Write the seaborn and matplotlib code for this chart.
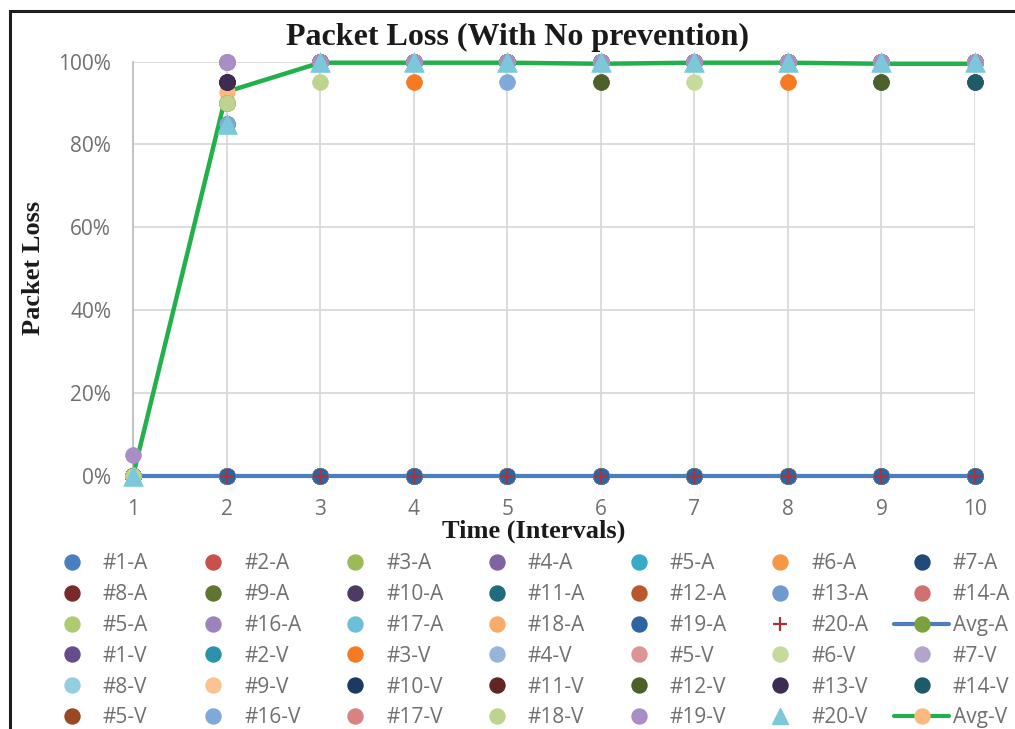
import numpy as np
import pandas as pd
import matplotlib
matplotlib.use("Agg")
import matplotlib.pyplot as plt
from matplotlib.lines import Line2D
from matplotlib.patches import Rectangle
from matplotlib.ticker import PercentFormatter
import seaborn as sns

# ---- data -----------------------------------------------------------------
times = [1, 2, 3, 4, 5, 6, 7, 8, 9, 10]

labels_a = ["#1-A", "#2-A", "#3-A", "#4-A", "#5-A", "#6-A", "#7-A",
            "#8-A", "#9-A", "#10-A", "#11-A", "#12-A", "#13-A", "#14-A",
            "#5-A", "#16-A", "#17-A", "#18-A", "#19-A", "#20-A"]
labels_v = ["#1-V", "#2-V", "#3-V", "#4-V", "#5-V", "#6-V", "#7-V",
            "#8-V", "#9-V", "#10-V", "#11-V", "#12-V", "#13-V", "#14-V",
            "#5-V", "#16-V", "#17-V", "#18-V", "#19-V", "#20-V"]

# packet loss (%) of the A nodes per interval
loss_a01 = [0, 0, 0, 0, 0, 0, 0, 0, 0, 0]
loss_a02 = [0, 0, 0, 0, 0, 0, 0, 0, 0, 0]
loss_a03 = [0, 0, 0, 0, 0, 0, 0, 0, 0, 0]
loss_a04 = [0, 0, 0, 0, 0, 0, 0, 0, 0, 0]
loss_a05 = [0, 0, 0, 0, 0, 0, 0, 0, 0, 0]
loss_a06 = [0, 0, 0, 0, 0, 0, 0, 0, 0, 0]
loss_a07 = [0, 0, 0, 0, 0, 0, 0, 0, 0, 0]
loss_a08 = [0, 0, 0, 0, 0, 0, 0, 0, 0, 0]
loss_a09 = [0, 0, 0, 0, 0, 0, 0, 0, 0, 0]
loss_a10 = [0, 0, 0, 0, 0, 0, 0, 0, 0, 0]
loss_a11 = [0, 0, 0, 0, 0, 0, 0, 0, 0, 0]
loss_a12 = [0, 0, 0, 0, 0, 0, 0, 0, 0, 0]
loss_a13 = [0, 0, 0, 0, 0, 0, 0, 0, 0, 0]
loss_a14 = [0, 0, 0, 0, 0, 0, 0, 0, 0, 0]
loss_a15 = [0, 0, 0, 0, 0, 0, 0, 0, 0, 0]
loss_a16 = [0, 0, 0, 0, 0, 0, 0, 0, 0, 0]
loss_a17 = [0, 0, 0, 0, 0, 0, 0, 0, 0, 0]
loss_a18 = [0, 0, 0, 0, 0, 0, 0, 0, 0, 0]
loss_a19 = [0, 0, 0, 0, 0, 0, 0, 0, 0, 0]
loss_a20 = [0, 0, 0, 0, 0, 0, 0, 0, 0, 0]

# packet loss (%) of the V nodes per interval
loss_v01 = [0, 100, 100, 100, 100, 100, 100, 100, 100, 95]
loss_v02 = [0, 100, 100, 100, 100, 100, 100, 100, 95, 100]
loss_v03 = [0, 95, 100, 95, 100, 100, 100, 95, 100, 100]
loss_v04 = [0, 90, 100, 100, 100, 100, 100, 100, 100, 100]
loss_v05 = [0, 100, 100, 100, 100, 95, 100, 100, 100, 100]
loss_v06 = [0, 90, 100, 100, 100, 100, 95, 100, 100, 100]
loss_v07 = [0, 100, 100, 100, 100, 100, 100, 100, 100, 100]
loss_v08 = [0, 95, 100, 100, 100, 100, 100, 100, 100, 100]
loss_v09 = [0, 90, 100, 100, 100, 100, 100, 100, 100, 100]
loss_v10 = [0, 95, 100, 100, 100, 100, 100, 100, 100, 100]
loss_v11 = [0, 95, 100, 100, 100, 100, 100, 100, 100, 100]
loss_v12 = [0, 90, 100, 100, 100, 95, 100, 100, 95, 100]
loss_v13 = [0, 95, 100, 100, 100, 100, 100, 100, 100, 100]
loss_v14 = [0, 85, 100, 100, 100, 100, 100, 100, 100, 95]
loss_v15 = [0, 85, 100, 100, 100, 100, 100, 100, 100, 100]
loss_v16 = [0, 85, 100, 100, 95, 100, 100, 100, 100, 100]
loss_v17 = [0, 90, 100, 100, 100, 100, 100, 100, 100, 100]
loss_v18 = [0, 90, 95, 100, 100, 100, 100, 100, 100, 100]
loss_v19 = [5, 100, 100, 100, 100, 100, 100, 100, 100, 100]
loss_v20 = [0, 85, 100, 100, 100, 100, 100, 100, 100, 100]

series_a = [loss_a01, loss_a02, loss_a03, loss_a04, loss_a05, loss_a06, loss_a07,
            loss_a08, loss_a09, loss_a10, loss_a11, loss_a12, loss_a13, loss_a14,
            loss_a15, loss_a16, loss_a17, loss_a18, loss_a19, loss_a20]
series_v = [loss_v01, loss_v02, loss_v03, loss_v04, loss_v05, loss_v06, loss_v07,
            loss_v08, loss_v09, loss_v10, loss_v11, loss_v12, loss_v13, loss_v14,
            loss_v15, loss_v16, loss_v17, loss_v18, loss_v19, loss_v20]

avg_a = np.mean(np.array(series_a, dtype=float), axis=0)
avg_v = np.mean(np.array(series_v, dtype=float), axis=0)

# ---- styles ---------------------------------------------------------------
colors_a = ["#4a7ec1", "#c8504d", "#9bbb59", "#8064a2", "#36aac6", "#f79646", "#1f4a7a",
            "#772c2a", "#5f7530", "#4d3b62", "#1f6a7c", "#b9582a", "#6f9acd", "#d07170",
            "#afcb72", "#9c84bb", "#6cbfd6", "#f9ab6b", "#2e64a0", "#a8333a"]
colors_v = ["#664c8c", "#2a92aa", "#f57a22", "#95b5dc", "#dc9494", "#c6da9c", "#b4a3cb",
            "#93cfe0", "#fac391", "#1a3a62", "#632523", "#4b6129", "#3c2b52", "#1f5a68",
            "#984823", "#80a8d8", "#da8282", "#bcd48e", "#a88dc6", "#7ac8da"]
avg_a_line, avg_a_marker = "#4a7ec1", "#7ba03c"
avg_v_line, avg_v_marker = "#22b04b", "#fbb97d"

sns.set_theme(style="white")
plt.rcParams["font.family"] = ["Open Sans", "DejaVu Sans"]
serif = ["Liberation Serif", "DejaVu Serif"]
tick_color = "#707070"
fs = 15

fig = plt.figure(figsize=(10.15, 7.29), dpi=100)
ax = fig.add_axes([0.1313, 0.3475, 0.8293, 0.5679])

# average lines underneath the individual nodes
sns.lineplot(x=times, y=avg_a, ax=ax, color=avg_a_line, linewidth=3.0,
             marker="o", markersize=11, markerfacecolor=avg_a_marker,
             markeredgecolor=avg_a_marker, zorder=3, clip_on=False)
sns.lineplot(x=times, y=avg_v, ax=ax, color=avg_v_line, linewidth=3.2,
             marker="o", markersize=11, markerfacecolor=avg_v_marker,
             markeredgecolor=avg_v_marker, zorder=3.1, clip_on=False)

# individual node markers
for i, (vals, col) in enumerate(zip(series_a, colors_a)):
    if i == 19:
        sns.scatterplot(x=times, y=vals, ax=ax, marker="+", s=95, color=col,
                        linewidth=1.6, zorder=4, clip_on=False)
    else:
        sns.scatterplot(x=times, y=vals, ax=ax, marker="o", s=130, color=col,
                        edgecolor=col, linewidth=0.5, zorder=4, clip_on=False)
for i, (vals, col) in enumerate(zip(series_v, colors_v)):
    if i == 19:
        sns.scatterplot(x=times, y=vals, ax=ax, marker="^", s=200, color=col,
                        edgecolor=col, linewidth=0.5, zorder=5, clip_on=False)
    else:
        sns.scatterplot(x=times, y=vals, ax=ax, marker="o", s=130, color=col,
                        edgecolor=col, linewidth=0.5, zorder=5, clip_on=False)

# axes
ax.set_xlim(1, 10)
ax.set_ylim(0, 100)
ax.set_xticks(times)
ax.set_yticks([0, 20, 40, 60, 80, 100])
ax.yaxis.set_major_formatter(PercentFormatter(100, decimals=0))
ax.grid(True, color="#d9d9d9", linewidth=1.3)
ax.set_axisbelow(True)
for side in ["top", "right", "bottom"]:
    ax.spines[side].set_visible(False)
ax.spines["left"].set_color("#bfbfbf")
ax.spines["left"].set_linewidth(1.3)
ax.tick_params(axis="both", length=0, labelsize=fs, labelcolor=tick_color)
ax.tick_params(axis="y", pad=16)
ax.tick_params(axis="x", pad=17)
ax.set_xlabel("")
ax.set_ylabel("")

fig.text(517.5 / 1015, 1 - 45 / 729, "Packet Loss (With No prevention)",
         family=serif, weight="bold", fontsize=23, ha="center", va="baseline",
         color="#1a1a1a")
fig.text(534 / 1015, 1 - 538 / 729, "Time (Intervals)",
         family=serif, weight="bold", fontsize=19, ha="center", va="baseline",
         color="#1a1a1a")
fig.text(34 / 1015, 1 - 268 / 729, "Packet Loss", rotation=90,
         family=serif, weight="bold", fontsize=19, ha="center", va="center",
         color="#1a1a1a")

# legend: 6 rows x 7 equal-width columns, filled row by row
handles, names = [], []
for lab, col, i in zip(labels_a, colors_a, range(20)):
    if i == 19:
        handles.append(Line2D([], [], linestyle="none", marker="+", markersize=10,
                              markeredgewidth=1.6, color=col))
    else:
        handles.append(Line2D([], [], linestyle="none", marker="o", markersize=10.8,
                              color=col))
    names.append(lab)
handles.append(Line2D([], [], color=avg_a_line, linewidth=3, marker="o", markersize=10.8,
                      markerfacecolor=avg_a_marker, markeredgecolor=avg_a_marker))
names.append("Avg-A")
for lab, col, i in zip(labels_v, colors_v, range(20)):
    if i == 19:
        handles.append(Line2D([], [], linestyle="none", marker="^", markersize=12,
                              color=col))
    else:
        handles.append(Line2D([], [], linestyle="none", marker="o", markersize=10.8,
                              color=col))
    names.append(lab)
handles.append(Line2D([], [], color=avg_v_line, linewidth=3, marker="o", markersize=10.8,
                      markerfacecolor=avg_v_marker, markeredgecolor=avg_v_marker))
names.append("Avg-V")

ncols, nrows = 7, 6
for c in range(ncols):
    idx = [r * ncols + c for r in range(nrows)]
    left = (71.7 + 141.7 * c - 27.5) / 1015
    leg = fig.legend([handles[k] for k in idx], [names[k] for k in idx],
                     loc="upper left", bbox_to_anchor=(left, 1 - 553 / 729),
                     frameon=False, borderpad=0, borderaxespad=0,
                     handlelength=2.64, handletextpad=0.17, labelspacing=0.475,
                     numpoints=1, fontsize=fs, labelcolor=tick_color)

# outer chart border
fig.patches.append(Rectangle((10 / 1015, -0.5), 2, 0.5 + 1 - 11 / 729,
                             transform=fig.transFigure, fill=False,
                             edgecolor="#1e1e1e", linewidth=2.2))

fig.savefig("out.png", dpi=100)
